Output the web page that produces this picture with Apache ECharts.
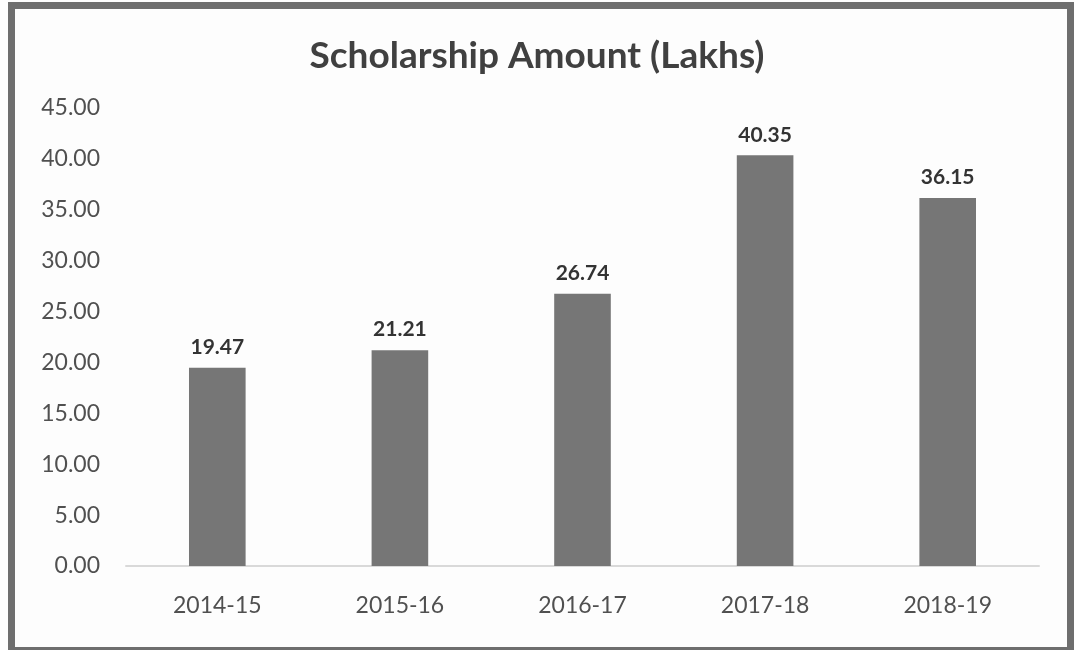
<!DOCTYPE html>
<html lang="en">
<head>
<meta charset="utf-8">
<script src="https://cdn.jsdelivr.net/npm/echarts@6/dist/echarts.min.js"></script>
<style>
    html, body { margin: 0; padding: 0; background: #fff; }
    #main { width: 1074px; height: 650px; }
</style>
</head>
<body>
<div id="main"></div>
<script>
    // 数据
    var years = ['2014-15', '2015-16', '2016-17', '2017-18', '2018-19'];
    var amounts = [19.47, 21.21, 26.74, 40.35, 36.15];
    var yTicks = [0, 5, 10, 15, 20, 25, 30, 35, 40, 45];

    var chart = echarts.init(document.getElementById('main'));

    var option = {
        backgroundColor: '#fdfdfd',
        title: {
            text: 'Scholarship Amount (Lakhs)',
            left: 'center',
            top: 33,
            textStyle: {
                fontFamily: 'Lato',
                fontSize: 37,
                fontWeight: 'bold',
                color: '#404040'
            }
        },
        graphic: [
            {   // 外框
                type: 'rect',
                shape: { x: 11.5, y: 5.5, width: 1059, height: 645 },
                style: { fill: 'none', stroke: '#6e6e6e', lineWidth: 7 },
                silent: true
            }
        ],
        grid: {
            left: 126,
            right: 35,
            top: 108,
            bottom: 84
        },
        xAxis: {
            type: 'category',
            data: years,
            axisLine: { lineStyle: { color: '#d9d9d9', width: 2 } },
            axisTick: { show: false },
            axisLabel: {
                margin: 28,
                fontFamily: 'Lato',
                fontSize: 23,
                color: '#505050'
            }
        },
        yAxis: {
            type: 'value',
            min: yTicks[0],
            max: yTicks[yTicks.length - 1],
            interval: 5,
            splitLine: { show: false },
            axisLine: { show: false },
            axisTick: { show: false },
            axisLabel: {
                margin: 26,
                fontFamily: 'Lato',
                fontSize: 23,
                color: '#505050',
                formatter: function (v) { return v.toFixed(2); }
            }
        },
        series: [
            {
                type: 'bar',
                data: amounts,
                barWidth: '31%',
                itemStyle: { color: '#767676' },
                label: {
                    show: true,
                    position: 'top',
                    distance: 10,
                    fontFamily: 'Lato',
                    fontSize: 21,
                    fontWeight: 'bold',
                    color: '#333',
                    formatter: function (p) { return p.value.toFixed(2); }
                }
            }
        ]
    };

    chart.setOption(option);
</script>
</body>
</html>
